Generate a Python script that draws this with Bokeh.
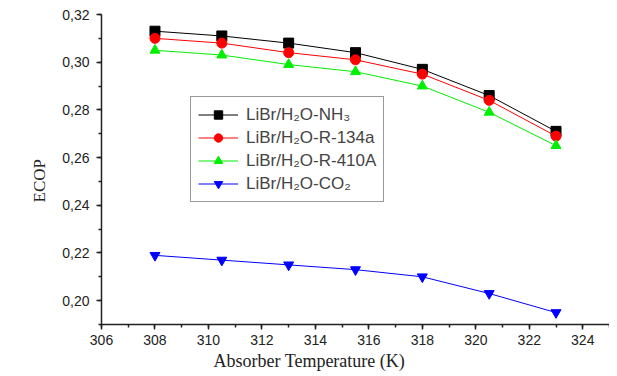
from bokeh.plotting import figure
from bokeh.models import FixedTicker, Range1d, Legend, LegendItem, Title
from bokeh.embed import file_html
from bokeh.resources import INLINE

temps = [308, 310.5, 313, 315.5, 318, 320.5, 323]
nh3 = [0.313, 0.311, 0.308, 0.304, 0.297, 0.286, 0.271]
r134a = [0.310, 0.308, 0.304, 0.301, 0.295, 0.284, 0.269]
r410a = [0.305, 0.303, 0.299, 0.296, 0.290, 0.279, 0.265]
co2 = [0.219, 0.217, 0.215, 0.213, 0.210, 0.203, 0.195]

labels = ["LiBr/H₂O-NH₃", "LiBr/H₂O-R-134a", "LiBr/H₂O-R-410A", "LiBr/H₂O-CO₂"]
x_ticks = [306, 308, 310, 312, 314, 316, 318, 320, 322, 324]
y_ticks = [0.20, 0.22, 0.24, 0.26, 0.28, 0.30, 0.32]
y_tick_labels = ["0,20", "0,22", "0,24", "0,26", "0,28", "0,30", "0,32"]
x_title = "Absorber Temperature (K)"
y_title = "ECOP"

p = figure(width=609, height=372, output_backend="svg", toolbar_location=None,
           x_range=Range1d(306, 325), y_range=Range1d(0.19, 0.32),
           min_border_left=101, min_border_right=0, min_border_top=14, min_border_bottom=48)
p.outline_line_color = None
p.xgrid.visible = False
p.ygrid.visible = False

series = [(nh3, "black", "square"), (r134a, "#ff0000", "circle"),
          (r410a, "#00ee00", "triangle"), (co2, "#0000ff", "inverted_triangle")]
items = []
for (vals, col, mk), lab in zip(series, labels):
    l = p.line(temps, vals, line_color=col, line_width=1)
    s = p.scatter(temps, vals, marker=mk, size=10, fill_color=col, line_color=col)
    items.append(LegendItem(label=lab, renderers=[l, s]))

legend = Legend(items=items, location=(89, 122))
legend.glyph_width = 40
legend.glyph_height = 21
legend.label_height = 21
legend.label_standoff = 8
legend.spacing = 2
legend.padding = 7
legend.margin = 0
legend.label_text_font = "Liberation Sans"
legend.label_text_font_size = "17px"
legend.border_line_color = "#333333"
legend.border_line_width = 1.5
legend.background_fill_alpha = 1
p.add_layout(legend, "center")

p.xaxis.ticker = FixedTicker(ticks=x_ticks, minor_ticks=[x for x in range(305, 326, 1)])
p.yaxis.ticker = FixedTicker(ticks=y_ticks, minor_ticks=[0.19 + 0.01 * i for i in range(14)])
p.yaxis.major_label_overrides = {v: t for v, t in zip(y_ticks, y_tick_labels)}

for ax in (p.xaxis, p.yaxis):
    ax.axis_line_width = 1.5
    ax.axis_line_color = "#222222"
    ax.major_tick_line_color = "#222222"
    ax.minor_tick_line_color = "#222222"
    ax.major_tick_line_width = 1.5
    ax.minor_tick_line_width = 1.5
    ax.major_tick_out = 5
    ax.major_tick_in = 0
    ax.minor_tick_out = 3
    ax.minor_tick_in = 0
    ax.major_label_text_font = "Liberation Sans"
    ax.major_label_text_font_size = "14px"
    ax.major_label_text_color = "#222222"

p.xaxis.major_label_standoff = 5
p.yaxis.major_label_standoff = 7

xt = Title(text=x_title, align="left", offset=112, standoff=2,
           text_font="Liberation Serif", text_font_size="18px",
           text_font_style="normal", text_color="#222222")
p.add_layout(xt, "below")
yt = Title(text=y_title, align="left", offset=122, standoff=22,
           text_font="Liberation Serif", text_font_size="17px",
           text_font_style="normal", text_color="#222222")
p.add_layout(yt, "left")

open("out.html", "w").write(file_html(p, INLINE))
